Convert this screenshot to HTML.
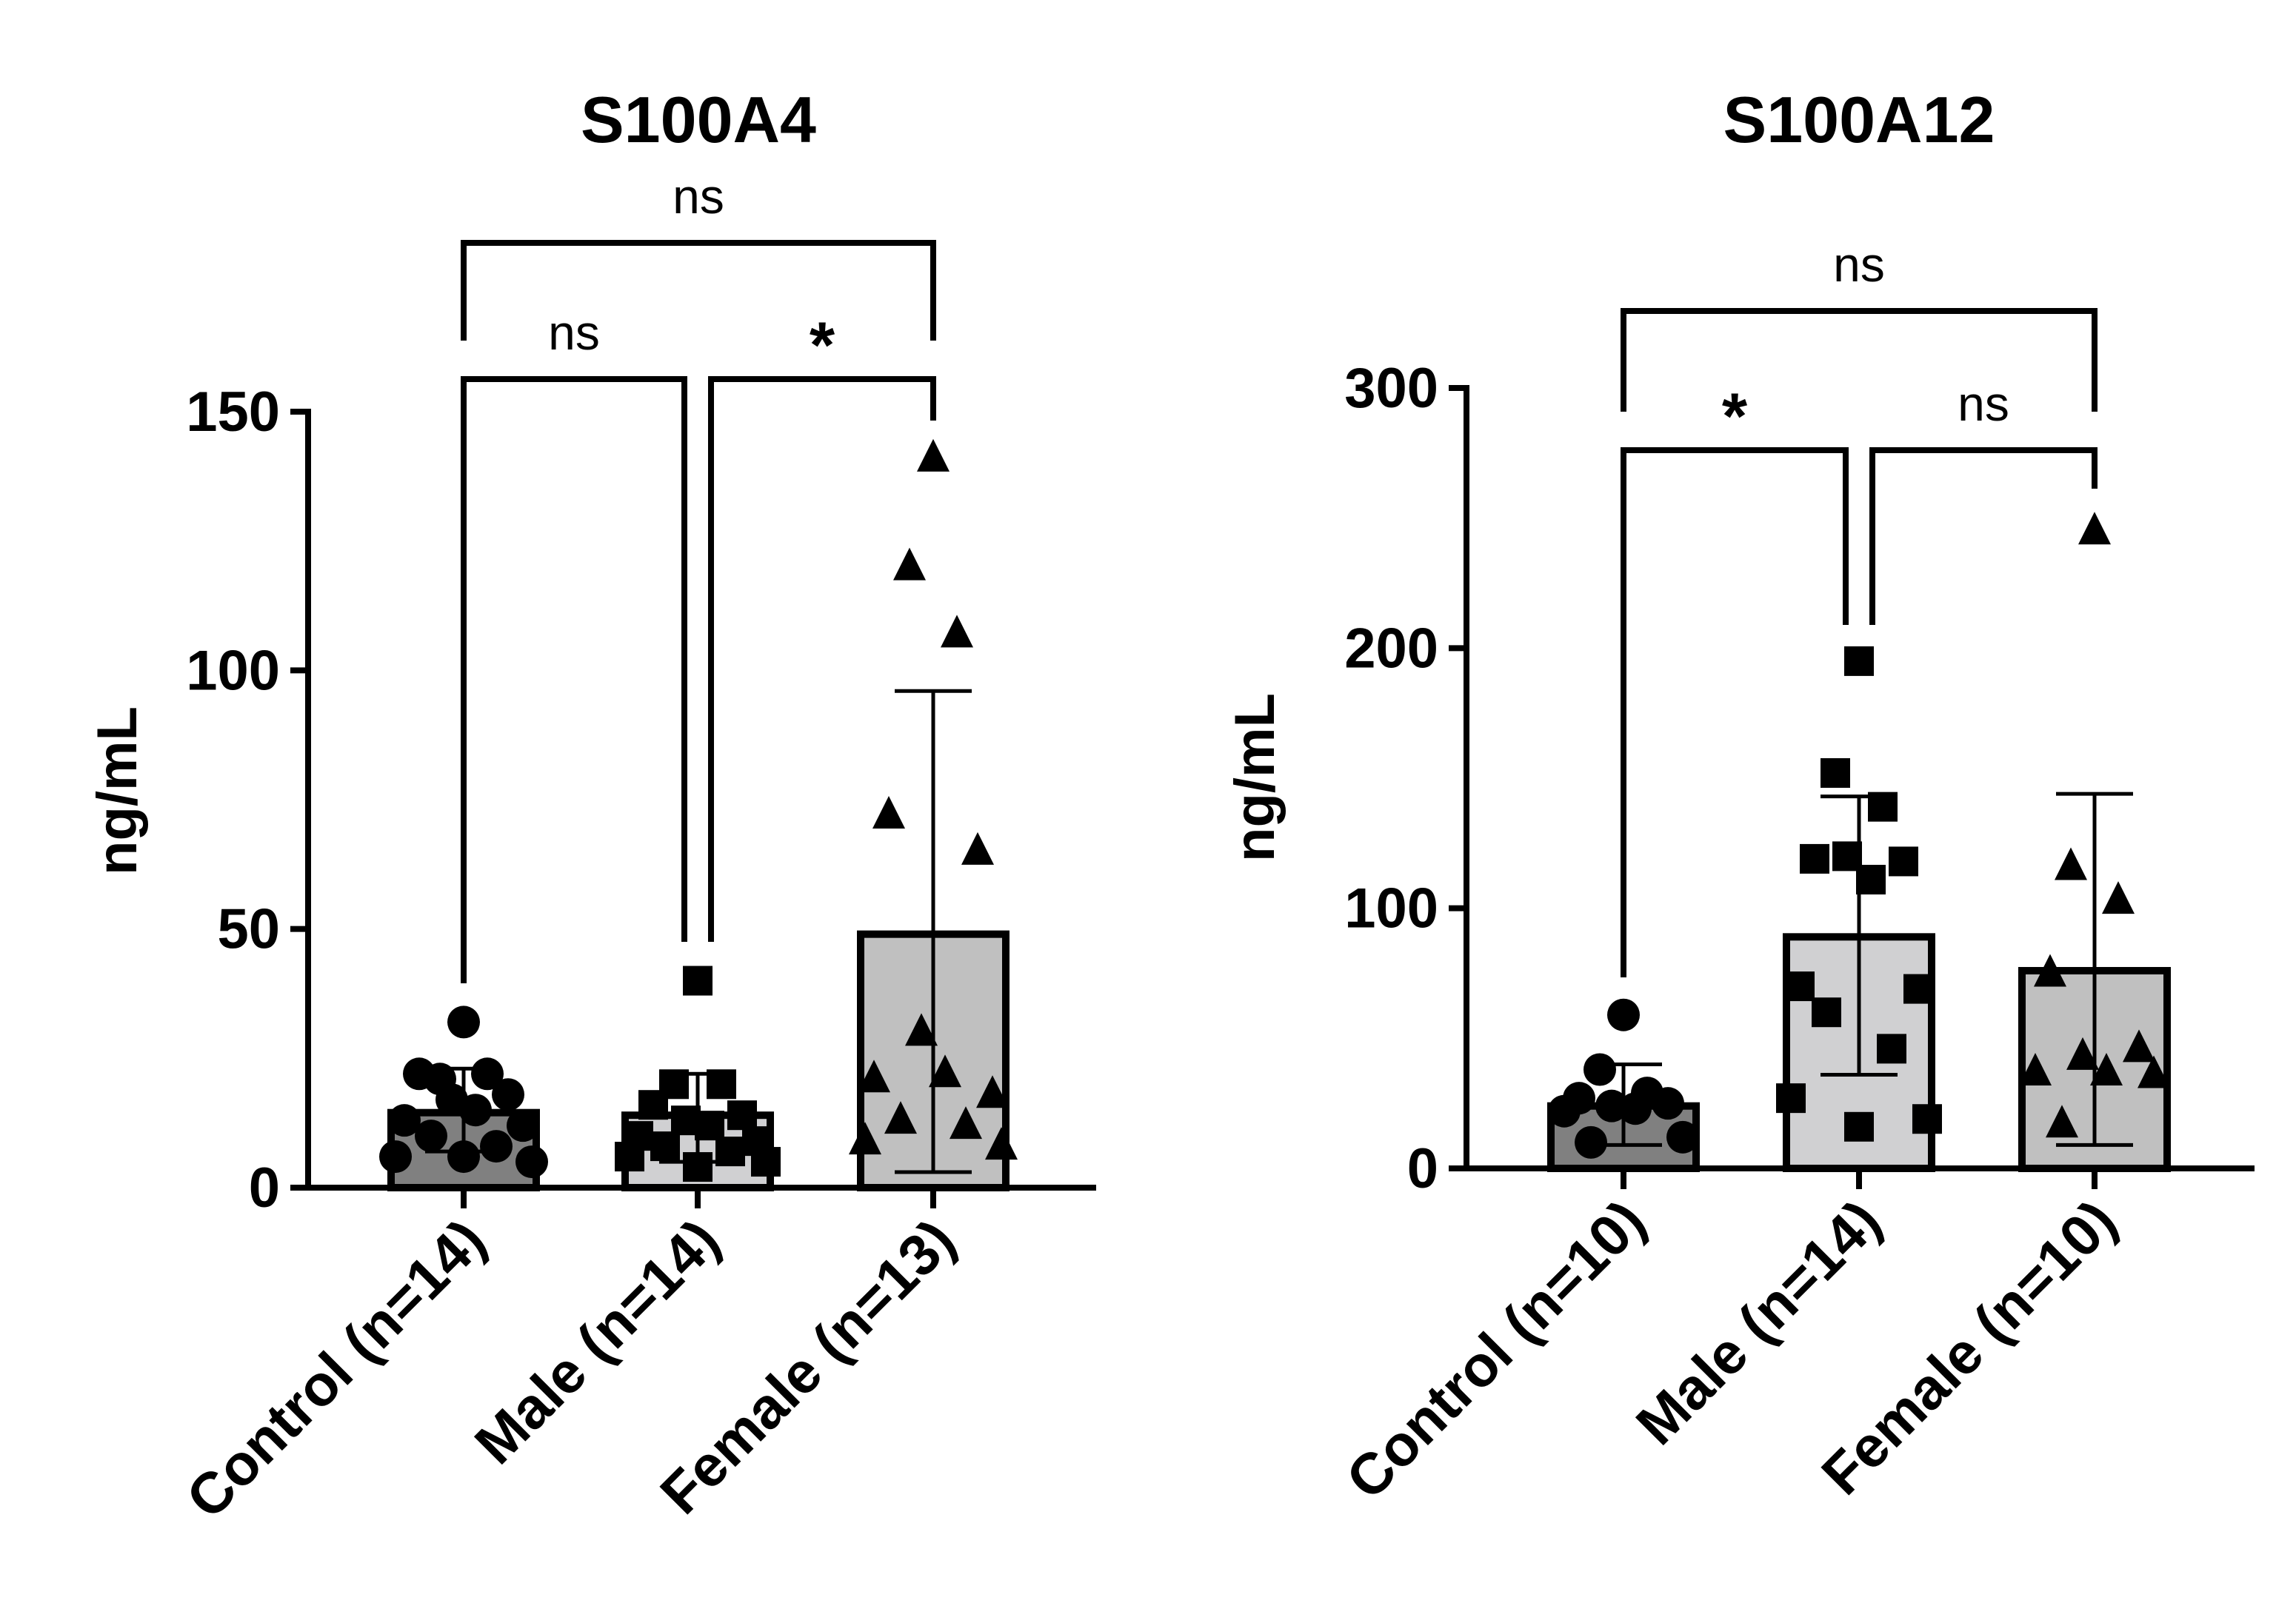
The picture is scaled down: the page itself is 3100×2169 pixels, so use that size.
<!DOCTYPE html>
<html><head><meta charset="utf-8"><style>
html,body{margin:0;padding:0;background:#fff;}
svg{display:block;}
text{font-family:"Liberation Sans",Arial,sans-serif;}
</style></head><body>
<svg id="fig" width="3100" height="2169" viewBox="0 0 1550 1084.5" xmlns="http://www.w3.org/2000/svg"></svg>
<script>
// ---- Data: S100A4 ----
const a4Categories = ["Control (n=14)", "Male (n=14)", "Female (n=13)"];
const a4Means = [14.5, 14, 49];
const a4SdLow = [7, 5, 3];
const a4SdHigh = [23, 22, 96];
const a4Control = [32,21,22,22,18,17,15,13,12,10,8,6,5,6];
const a4Male = [40,20,20,16,14,13,12,10,9,8,7,6,5,4];
const a4Female = [141,120,107,72,65,30,22,21,18,13,12,9,8];
const a4Ticks = [0,50,100,150];
// ---- Data: S100A12 ----
const a12Categories = ["Control (n=10)", "Male (n=14)", "Female (n=10)"];
const a12Means = [24, 89, 76];
const a12SdLow = [9, 36, 9];
const a12SdHigh = [40, 143, 144];
const a12Control = [59,38,29,27,25,24,23,22,12,10];
const a12Male = [195,152,139,119,118,120,111,70,69,60,46,27,19,16];
const a12Female = [245,116,103,75,46,43,37,37,36,17];
const a12Ticks = [0,100,200,300];

const NS = "http://www.w3.org/2000/svg";
const svg = document.getElementById('fig');
function mk(tag, attrs, parent){const e=document.createElementNS(NS,tag);for(const k in attrs)e.setAttribute(k,attrs[k]);(parent||svg).appendChild(e);return e;}

const offs = [0,-16,16,-30,30,-8,8,-40,40,-22,22,-46,46,0];

function chart(cfg){
  const g = mk('g',{});
  
  
  const y = v => cfg.y0 - (v/cfg.yMax)*(cfg.y0-cfg.yTop);
  const x = i => cfg.xs[i];
  const fills = ['#808080','#d0d0d2','#c0c0c0'];
  const groups = [cfg.ctrl, cfg.male, cfg.fem];
  cfg.means.forEach((m,i)=>{
    const r = mk('rect',{x:x(i)-49,y:y(m),width:98,height:cfg.y0-y(m),fill:fills[i],stroke:'#000','stroke-width':5},g);
    
    
  });
  groups.forEach((arr,i)=>{
    arr.forEach((v,j)=>{
      const px = x(i)+offs[j%offs.length], py = y(v);
      let e;
      if(i===0){ e = mk('circle',{cx:px,cy:py,r:11,fill:'#000'},g); }
      else if(i===1){ e = mk('rect',{x:px-10,y:py-10,width:20,height:20,fill:'#000'},g); }
      else { e = mk('polygon',{points:`${px},${py-13} ${px-11},${py+9} ${px+11},${py+9}`,fill:'#000'},g); }
      
      
    });
  });
  cfg.means.forEach((m,i)=>{
    const eg = mk('g',{stroke:'#000','stroke-width':2.5},g);
    
    
    mk('line',{x1:x(i),x2:x(i),y1:y(cfg.lo[i]),y2:y(cfg.hi[i])},eg);
    mk('line',{x1:x(i)-26,x2:x(i)+26,y1:y(cfg.lo[i]),y2:y(cfg.lo[i])},eg);
    mk('line',{x1:x(i)-26,x2:x(i)+26,y1:y(cfg.hi[i]),y2:y(cfg.hi[i])},eg);
  });
  const ax = mk('g',{stroke:'#000','stroke-width':4},g);
  
  
  mk('line',{x1:cfg.ax,x2:cfg.ax,y1:cfg.yTop-2,y2:cfg.y0+2},ax);
  mk('line',{x1:cfg.ax-2,x2:cfg.xEnd,y1:cfg.y0,y2:cfg.y0},ax);
  cfg.ticks.forEach(t=>{
    mk('line',{x1:cfg.ax-12,x2:cfg.ax,y1:y(t),y2:y(t)},ax);
    const tx = mk('text',{x:cfg.ax-19,y:y(t)+13,'text-anchor':'end','font-size':38,'font-weight':'bold'},g);
    tx.textContent = t;
    
    
  });
  cfg.cats.forEach((c,i)=>{
    mk('line',{x1:x(i),x2:x(i),y1:cfg.y0,y2:cfg.y0+14},ax);
    const tx = mk('text',{x:0,y:0,'text-anchor':'end','font-size':39,'font-weight':'bold',transform:`translate(${x(i)+17},${cfg.y0+38}) rotate(-45)`},g);
    tx.textContent = c;
    
    
  });
  const yl = mk('text',{x:0,y:0,'text-anchor':'middle','font-size':38,'font-weight':'bold',transform:`translate(${cfg.ylx},${cfg.yly}) rotate(-90)`},g);
  yl.textContent='ng/mL';
  
  
  const tt = mk('text',{x:(x(0)+x(2))/2,y:96,'text-anchor':'middle','font-size':44,'font-weight':'bold'},g);
  tt.textContent=cfg.title;
  
  
  cfg.brackets.forEach(b=>{
    const bg = mk('g',{},g);
    
    
    mk('polyline',{points:`${b.x1},${b.l1} ${b.x1},${b.y} ${b.x2},${b.y} ${b.x2},${b.l2}`,fill:'none',stroke:'#000','stroke-width':4},bg);
    const lt = mk('text',{x:(b.x1+b.x2)/2,y:b.y-(b.t==='*'?8:20),'text-anchor':'middle','font-size':b.t==='*'?44:33,'font-weight':b.t==='*'?'bold':'normal'},bg);
    lt.textContent=b.t;
  });
}

chart({name:'chart-s100a4',title:'S100A4',cats:a4Categories,means:a4Means,lo:a4SdLow,hi:a4SdHigh,
  ctrl:a4Control,male:a4Male,fem:a4Female,ticks:a4Ticks,yMax:150,y0:802,yTop:278,
  xs:[313,471,630],ax:208,xEnd:740,ylx:92,yly:534,
  brackets:[{x1:313,x2:630,y:164,l1:230,l2:230,t:'ns'},
            {x1:313,x2:462,y:256,l1:664,l2:636,t:'ns'},
            {x1:480,x2:630,y:256,l1:636,l2:284,t:'*'}]});
chart({name:'chart-s100a12',title:'S100A12',cats:a12Categories,means:a12Means,lo:a12SdLow,hi:a12SdHigh,
  ctrl:a12Control,male:a12Male,fem:a12Female,ticks:a12Ticks,yMax:300,y0:789,yTop:262,
  xs:[1096,1255,1414],ax:990,xEnd:1522,ylx:860,yly:525,
  brackets:[{x1:1096,x2:1414,y:210,l1:278,l2:278,t:'ns'},
            {x1:1096,x2:1246,y:304,l1:660,l2:422,t:'*'},
            {x1:1264,x2:1414,y:304,l1:422,l2:330,t:'ns'}]});
</script>
</body></html>
